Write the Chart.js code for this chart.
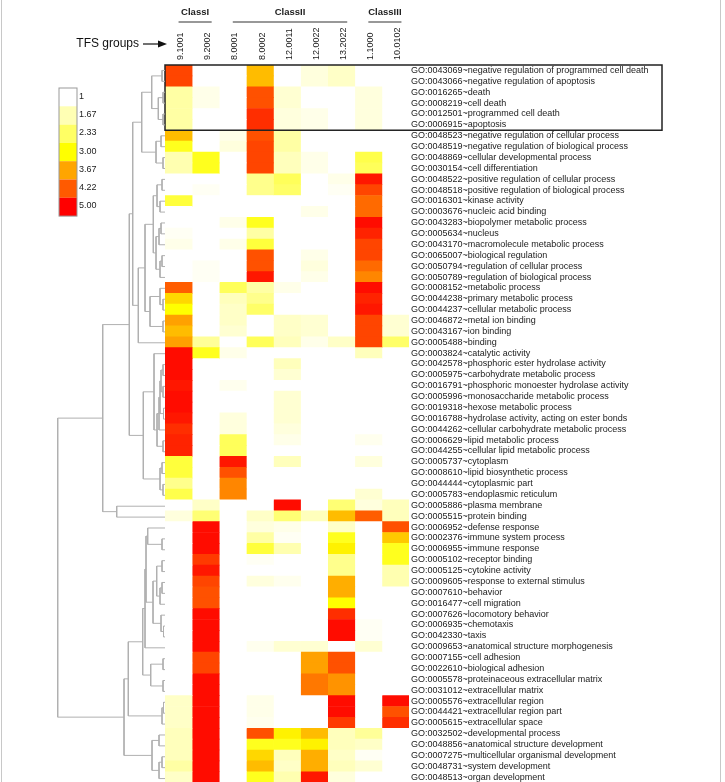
<!DOCTYPE html>
<html>
<head>
<meta charset="utf-8">
<script src="https://cdn.jsdelivr.net/npm/chart.js@4.4.1/dist/chart.umd.min.js"></script>
<style>
  html, body { margin: 0; padding: 0; background: #fff; overflow: hidden; }
  #wrap { position: relative; width: 725px; height: 790px; }
  canvas { position: absolute; left: 0; top: 0; }
</style>
</head>
<body>
<div id="wrap">
  <canvas id="heat" width="725" height="790"></canvas>
  <canvas id="tree" width="165" height="790"></canvas>
</div>
<script>
// TFS groups (columns) and the class they belong to
var colNames = ["9.1001", "9.2002", "8.0001", "8.0002", "12.0011", "12.0022", "13.2022", "1.1000", "10.0102"];
var classNames = ["ClassI", "ClassII", "ClassIII"];
var classFirst = [0, 2, 7];
var classLast = [1, 6, 8];

// GO terms (rows), top to bottom
var rowLabels = [
  "GO:0043069~negative regulation of programmed cell death",
  "GO:0043066~negative regulation of apoptosis",
  "GO:0016265~death",
  "GO:0008219~cell death",
  "GO:0012501~programmed cell death",
  "GO:0006915~apoptosis",
  "GO:0048523~negative regulation of cellular process",
  "GO:0048519~negative regulation of biological process",
  "GO:0048869~cellular developmental process",
  "GO:0030154~cell differentiation",
  "GO:0048522~positive regulation of cellular process",
  "GO:0048518~positive regulation of biological process",
  "GO:0016301~kinase activity",
  "GO:0003676~nucleic acid binding",
  "GO:0043283~biopolymer metabolic process",
  "GO:0005634~nucleus",
  "GO:0043170~macromolecule metabolic process",
  "GO:0065007~biological regulation",
  "GO:0050794~regulation of cellular process",
  "GO:0050789~regulation of biological process",
  "GO:0008152~metabolic process",
  "GO:0044238~primary metabolic process",
  "GO:0044237~cellular metabolic process",
  "GO:0046872~metal ion binding",
  "GO:0043167~ion binding",
  "GO:0005488~binding",
  "GO:0003824~catalytic activity",
  "GO:0042578~phosphoric ester hydrolase activity",
  "GO:0005975~carbohydrate metabolic process",
  "GO:0016791~phosphoric monoester hydrolase activity",
  "GO:0005996~monosaccharide metabolic process",
  "GO:0019318~hexose metabolic process",
  "GO:0016788~hydrolase activity, acting on ester bonds",
  "GO:0044262~cellular carbohydrate metabolic process",
  "GO:0006629~lipid metabolic process",
  "GO:0044255~cellular lipid metabolic process",
  "GO:0005737~cytoplasm",
  "GO:0008610~lipid biosynthetic process",
  "GO:0044444~cytoplasmic part",
  "GO:0005783~endoplasmic reticulum",
  "GO:0005886~plasma membrane",
  "GO:0005515~protein binding",
  "GO:0006952~defense response",
  "GO:0002376~immune system process",
  "GO:0006955~immune response",
  "GO:0005102~receptor binding",
  "GO:0005125~cytokine activity",
  "GO:0009605~response to external stimulus",
  "GO:0007610~behavior",
  "GO:0016477~cell migration",
  "GO:0007626~locomotory behavior",
  "GO:0006935~chemotaxis",
  "GO:0042330~taxis",
  "GO:0009653~anatomical structure morphogenesis",
  "GO:0007155~cell adhesion",
  "GO:0022610~biological adhesion",
  "GO:0005578~proteinaceous extracellular matrix",
  "GO:0031012~extracellular matrix",
  "GO:0005576~extracellular region",
  "GO:0044421~extracellular region part",
  "GO:0005615~extracellular space",
  "GO:0032502~developmental process",
  "GO:0048856~anatomical structure development",
  "GO:0007275~multicellular organismal development",
  "GO:0048731~system development",
  "GO:0048513~organ development"
];

// enrichment score per column, one value per row (1 = none, 5 = max)
var val_9_1001 = [4.4,4.4,1.8,1.8,1.8,1.8,3.5,2.8,1.7,1.7, 1,1,2.6,1,1,1.1,1.2,1,1,1,
  4.2,3.3,3.0,3.7,3.5,3.7,4.9,4.9,4.9,4.8, 4.9,4.9,4.8,4.6,4.7,4.7,2.6,2.6,2.0,2.5,
  1,1.3,1,1,1,1,1,1,1,1, 1,1,1,1,1,1,1,1,1.5,1.5, 1.5,1.6,1.6,1.6,1.8,1.5];
var val_9_2002 = [1,1,1.2,1.2,1,1,1,1,2.8,2.8, 1,1.1,1,1,1,1,1,1,1.1,1.1,
  1,1,1,1,1,1.9,2.8,1,1,1, 1,1,1,1,1,1,1,1,1,1,
  1.5,2.2,4.9,4.9,4.9,4.5,4.8,4.4,4.3,4.3, 4.9,4.9,4.9,4.9,4.4,4.4,4.9,4.9,4.9,4.9, 4.9,4.9,4.9,4.9,4.9,4.9];
var val_8_0001 = [1,1,1,1,1,1,1.2,1.3,1,1, 1,1,1,1,1.2,1,1.2,1,1,1,
  2.4,1.6,1.5,1.5,1.4,1,1.2,1,1,1.15, 1,1,1.3,1.3,2.4,2.4,4.8,4.3,3.9,3.9,
  1,1,1,1,1,1,1,1,1,1, 1,1,1,1,1,1,1,1,1,1, 1,1,1,1,1,1];
var val_8_0002 = [3.5,3.5,4.3,4.3,4.6,4.6,4.3,4.4,4.4,4.4, 2.0,2.0,1,1,2.8,1.8,2.6,4.3,4.3,4.8,
  1.8,2.0,2.3,1,1,2.4,1,1,1,1, 1,1,1,1,1,1,1,1,1,1,
  1,1.5,1.3,1.8,2.6,1.1,1,1.3,1,1, 1,1,1,1.15,1,1,1,1,1.2,1.2, 1.15,4.3,2.8,3.3,3.5,2.8];
var val_12_0011 = [1,1,1.4,1.4,1.3,1.3,1.8,1.8,1.6,1.6, 2.4,2.3,1,1,1,1,1,1,1,1,
  1.2,1,1,1.5,1.5,1.6,1,1.6,1.4,1, 1.4,1.4,1.4,1.3,1.2,1,1.6,1,1,1,
  4.9,2.2,1.2,1.1,1.7,1,1,1.15,1,1, 1,1,1,1.4,1,1,1,1,1,1, 1,3.1,2.8,1.6,1.5,1.7];
var val_12_0022 = [1.3,1.3,1,1,1.2,1.2,1,1,1.2,1.2, 1,1,1,1.2,1,1,1,1.2,1.3,1.2,
  1,1,1,1.4,1.4,1.2,1,1,1,1, 1,1,1,1,1,1,1,1,1,1,
  1,1.6,1,1,1,1,1,1,1,1, 1,1,1,1.4,3.7,3.7,4.0,4.0,1,1, 1,3.5,3.1,3.6,3.6,4.8];
var val_13_2022 = [1.5,1.5,1,1,1,1,1,1,1,1, 1.2,1.1,1,1,1,1,1,1,1,1,
  1,1,1,1,1,1.5,1,1,1,1, 1,1,1,1,1,1,1,1,1,1,
  2.2,3.5,1.5,2.8,3.1,2.0,2.0,3.6,3.6,3.0, 4.6,4.9,4.9,1,4.3,4.3,3.8,3.8,4.9,4.9, 4.5,1.6,1.6,1.5,1.6,1.3];
var val_1_1000 = [1,1,1.3,1.3,1.3,1.3,1,1,2.5,2.4, 4.8,4.4,4.1,4.1,4.9,4.7,4.4,4.4,4.1,3.9,
  4.9,4.7,4.8,4.4,4.4,4.4,1.6,1,1,1, 1,1,1,1,1.15,1,1.3,1,1,1.4,
  1.3,4.2,1,1,1,1,1,1,1,1, 1,1.1,1.1,1.4,1,1,1,1,1,1, 1,1.9,1.5,1.1,1.4,1];
var val_10_0102 = [1,1,1,1,1,1,1,1,1,1, 1,1,1,1,1,1,1,1,1,1,
  1,1,1,1.4,1.4,2.3,1,1,1,1, 1,1,1,1,1,1,1,1,1,1,
  1.6,1.6,4.3,3.4,2.8,2.8,1.7,1.7,1,1, 1,1,1,1,1,1,1,1,4.9,4.3, 4.6,1,1,1,1,1];

// colour key
var legendTicks = ["1", "1.67", "2.33", "3.00", "3.67", "4.22", "5.00"];
var legendValues = [1, 1.67, 2.33, 3, 3.67, 4.22, 5];
var legendRgb = [[255,255,255],[255,255,180],[255,255,100],[255,255,0],[255,165,0],[255,90,0],[255,0,0]];

// row dendrogram, hclust style: negative = row (1-based), positive = earlier merge
var mergeLeft  = [-1,-3,-5,2,1, -7,-9,6,5, -11,-13,10,-15,13,-18,15,14,12, -22,-21,-24,20,18,23,9,
  -28,-30,-32,26,29,30,-35,31,-27, -37,-39,35,34,25,-41,39,
  -44,-43,-46,-48,45,44,-52,-51,47,43,51, -55,-57,53,52,-59,57,56, -62,-64,61,60,59,41];
var mergeRight = [-2,-4,-6,3,4, -8,-10,7,8, -12,-14,11,-16,-17,-19,-20,16,17, -23,19,-25,21,22,-26,24,
  -29,-31,-33,27,28,-34,-36,32,33, -38,-40,36,37,38,-42,40,
  -45,42,-47,-49,-50,46,-53,48,49,50,-54, -56,-58,54,55,-60,-61,58, -63,-65,-66,62,63,64];
var mergeHeight = [3,2,2,6.7,13.3, 4,2,9,23.3, 3,5,8,4,6,3,5,9,11.7, 2,5,2,15,20,26.7,32.3,
  2,2,1.5,4,5,6,2,8,11, 3,2,5,21.7,35.7,48.3,62.3,
  3,17.3,3,3,5,8.3,1.5,4,12,19,20, 2,2,14.3,22.3,1.5,3,36.7, 6,3,6,13,41,107.3];

var FONT = "'Liberation Sans', Arial, sans-serif";
var columns = [val_9_1001, val_9_2002, val_8_0001, val_8_0002, val_12_0011, val_12_0022, val_13_2022, val_1_1000, val_10_0102];

function heatColor(v) {
  var k = 0;
  while (k < legendValues.length - 2 && v > legendValues[k + 1]) k++;
  var t = (v - legendValues[k]) / (legendValues[k + 1] - legendValues[k]);
  t = Math.max(0, Math.min(1, t));
  var a = legendRgb[k], b = legendRgb[k + 1];
  var c = [0, 1, 2].map(function (i) { return Math.round(a[i] + (b[i] - a[i]) * t); });
  return "rgb(" + c.join(",") + ")";
}

// extra drawing: box, class headers, arrow, colour key
var decor = {
  id: "decor",
  afterDraw: function (chart) {
    var ctx = chart.ctx, xs = chart.scales.x, ys = chart.scales.y, area = chart.chartArea;
    ctx.save();

    // page frame
    ctx.strokeStyle = "#c8c8c8";
    ctx.lineWidth = 1;
    ctx.beginPath();
    ctx.moveTo(1.5, 0); ctx.lineTo(1.5, 790);
    ctx.moveTo(720.5, 0); ctx.lineTo(720.5, 790);
    ctx.stroke();

    // box round the cell death terms
    var half = (ys.getPixelForValue(1) - ys.getPixelForValue(0)) / 2;
    var top = ys.getPixelForValue(0) - half;
    var bot = ys.getPixelForValue(5) + half;
    ctx.strokeStyle = "#222";
    ctx.lineWidth = 1.5;
    ctx.strokeRect(area.left, top, 662 - area.left, bot - top);

    // class headers
    ctx.fillStyle = "#222";
    ctx.strokeStyle = "#333";
    ctx.lineWidth = 1.2;
    ctx.font = "bold 9.5px " + FONT;
    ctx.textAlign = "center";
    ctx.textBaseline = "middle";
    for (var i = 0; i < classNames.length; i++) {
      var x0 = xs.getPixelForValue(classFirst[i] + 0.5);
      var x1 = xs.getPixelForValue(classLast[i] + 0.5) + 6;
      ctx.beginPath();
      ctx.moveTo(x0, 22); ctx.lineTo(x1, 22);
      ctx.stroke();
      ctx.fillText(classNames[i], (x0 + x1) / 2, 12);
    }

    // TFS groups arrow
    ctx.font = "12px " + FONT;
    ctx.textAlign = "right";
    ctx.fillStyle = "#111";
    ctx.fillText("TFS groups", 139, 44);
    ctx.strokeStyle = "#111";
    ctx.lineWidth = 1.2;
    ctx.beginPath();
    ctx.moveTo(143, 44); ctx.lineTo(162, 44);
    ctx.stroke();
    ctx.beginPath();
    ctx.moveTo(167, 44); ctx.lineTo(158, 40.5); ctx.lineTo(158, 47.5);
    ctx.closePath();
    ctx.fill();

    // colour key
    var kx = 59, ky = 88, kw = 18, kh = 18.3;
    for (var j = 0; j < legendValues.length; j++) {
      ctx.fillStyle = heatColor(legendValues[j]);
      ctx.fillRect(kx, ky + j * kh, kw, kh);
    }
    ctx.strokeStyle = "#999";
    ctx.lineWidth = 1;
    ctx.strokeRect(kx, ky, kw, kh * legendValues.length);
    ctx.fillStyle = "#222";
    ctx.font = "9px " + FONT;
    ctx.textAlign = "left";
    for (var j = 0; j < legendTicks.length; j++) {
      ctx.fillText(legendTicks[j], kx + kw + 2, ky + j * kh + kh / 2 - 1);
    }
    ctx.restore();
  }
};

// heatmap: one floating bar per cell
new Chart(document.getElementById("heat"), {
  type: "bar",
  data: {
    labels: rowLabels,
    datasets: columns.map(function (vals, j) {
      return {
        label: colNames[j],
        data: vals.map(function () { return [j, j + 1]; }),
        backgroundColor: vals.map(heatColor),
        borderWidth: 0,
        grouped: false,
        barPercentage: 1,
        categoryPercentage: 1
      };
    })
  },
  options: {
    indexAxis: "y",
    responsive: false,
    animation: false,
    layout: { padding: { left: 165, top: 0, right: 0, bottom: 6 } },
    plugins: { legend: { display: false }, tooltip: { enabled: false } },
    scales: {
      x: {
        type: "linear",
        position: "top",
        min: 0,
        max: colNames.length,
        grid: { display: false, drawTicks: false },
        border: { display: false },
        afterBuildTicks: function (s) {
          s.ticks = colNames.map(function (n, i) { return { value: i + 0.5 }; });
        },
        afterFit: function (s) { s.height = 65; },
        ticks: {
          autoSkip: false,
          minRotation: 90,
          maxRotation: 90,
          padding: 5,
          labelOffset: 13,
          color: "#222",
          font: { family: FONT, size: 9 },
          callback: function (v, i) { return colNames[i]; }
        }
      },
      y: {
        type: "category",
        position: "right",
        grid: { display: false, drawTicks: false },
        border: { display: false },
        afterFit: function (s) { s.width = 316; },
        ticks: { autoSkip: false, padding: 2, color: "#222", font: { family: FONT, size: 9 } }
      }
    }
  },
  plugins: [decor]
});

// dendrogram lines, built from the merge table
var nodeY = [];
var treePts = [];
function childPos(c) {
  if (c < 0) return { y: -c - 1, h: 0 };
  return { y: nodeY[c - 1], h: mergeHeight[c - 1] };
}
for (var k = 0; k < mergeHeight.length; k++) {
  var a = childPos(mergeLeft[k]);
  var b = childPos(mergeRight[k]);
  var h = mergeHeight[k];
  treePts.push({ x: a.h, y: a.y }, { x: h, y: a.y }, { x: h, y: b.y }, { x: b.h, y: b.y }, { x: null, y: null });
  nodeY[k] = (a.y + b.y) / 2;
}

new Chart(document.getElementById("tree"), {
  type: "line",
  data: {
    datasets: [{
      data: treePts,
      borderColor: "#b0b0b0",
      borderWidth: 1,
      pointRadius: 0,
      spanGaps: false,
      tension: 0,
      clip: false
    }]
  },
  options: {
    responsive: false,
    animation: false,
    layout: { padding: { left: 0, top: 65, right: 0, bottom: 6 } },
    plugins: { legend: { display: false }, tooltip: { enabled: false } },
    scales: {
      x: { type: "linear", min: 0, max: 165, reverse: true, display: false },
      y: { type: "linear", min: -0.5, max: rowLabels.length - 0.5, reverse: true, display: false }
    }
  }
});
</script>
</body>
</html>
